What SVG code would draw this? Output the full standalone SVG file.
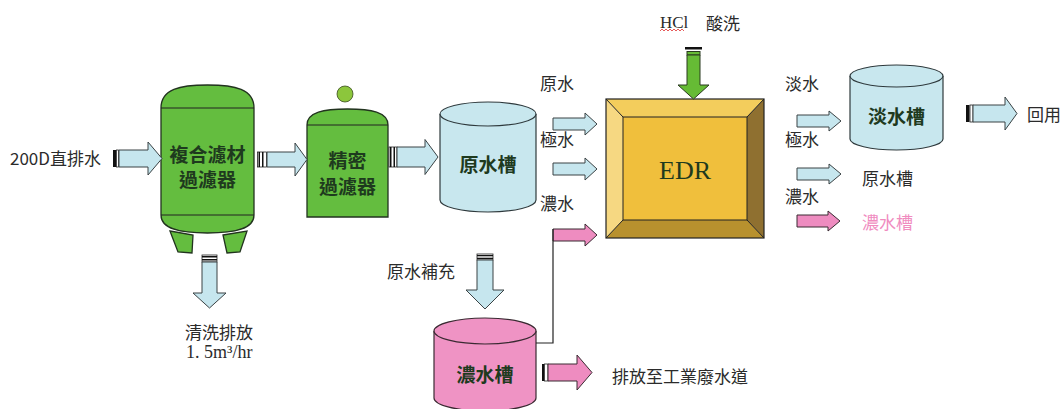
<svg xmlns="http://www.w3.org/2000/svg" width="1064" height="409" viewBox="0 0 1064 409">
  <style>
    .lbl { font-family: "Noto Sans CJK TC", "Noto Sans", sans-serif; font-size: 17px; fill: #2b2b2b; dominant-baseline: central; }
    .serif { font-family: "Liberation Serif", "Noto Sans CJK TC", serif; }
    .tank-lbl { font-family: "Noto Sans CJK TC", "Noto Sans", sans-serif; font-size: 19px; font-weight: bold; fill: #1e3a1e; text-anchor: middle; dominant-baseline: central; }
    .green { fill: #64bd3f; stroke: #22331f; stroke-width: 1.3; }
    .blue { fill: #c8e7ee; stroke: #2f3a3d; stroke-width: 1.2; }
    .pink { fill: #ef93c4; stroke: #3a2a32; stroke-width: 1.2; }
    .arr-blue { fill: #c6e6ee; stroke: #3a4244; stroke-width: 1; }
    .arr-pink { fill: #ee8cc0; stroke: #3a2a32; stroke-width: 1; }
    .arr-green { fill: #66bb35; stroke: #2a3a20; stroke-width: 1; }
    .stripe-dk { fill: #111; }
    .stripe-lt { fill: #fff; stroke: #222; stroke-width: 0.8; }
    .edge { stroke: #222; stroke-width: 1; }
    .pipe { fill: none; stroke: #222; stroke-width: 1.2; }
  </style>

  <rect width="1064" height="409" fill="#ffffff"/>

  <!-- composite media filter -->
  <g id="node-composite-filter">
    <polygon class="green" points="170,231 193,235 192,253 178,252"/>
    <polygon class="green" points="223,235 247,231 240,252 227,253"/>
    <path class="green" d="M161,108 C161,89 180,85 207.5,85 C235,85 254,89 254,108 L254,215 C254,229 235,233 207.5,233 C180,233 161,229 161,215 Z"/>
    <line class="edge" x1="161" y1="108" x2="254" y2="108"/>
    <line class="edge" x1="161" y1="215" x2="254" y2="215"/>
    <text class="tank-lbl" x="207.5" y="153">複合濾材</text>
    <text class="tank-lbl" x="207.5" y="178">過濾器</text>
  </g>

  <!-- precision filter -->
  <g id="node-precision-filter">
    <circle cx="345" cy="94" r="8" fill="#8cc63c" stroke="#3a4a20" stroke-width="0.8"/>
    <path class="green" d="M307,125 C307,112 324,109 347.5,109 C371,109 388,112 388,125 L388,217 L307,217 Z"/>
    <line class="edge" x1="307" y1="125" x2="388" y2="125"/>
    <text class="tank-lbl" x="347.5" y="159">精密</text>
    <text class="tank-lbl" x="347.5" y="185">過濾器</text>
  </g>

  <!-- raw water tank -->
  <g id="node-raw-tank">
    <path class="blue" d="M440,114 L440,200 A48,12 0 0 0 536,200 L536,114"/>
    <ellipse class="blue" cx="488" cy="114" rx="48" ry="12"/>
    <text class="tank-lbl" x="488" y="163">原水槽</text>
  </g>

  <!-- EDR unit -->
  <g id="node-edr">
    <rect x="623" y="117" width="124" height="103" fill="#f0bf3c"/>
    <polygon points="606,99 764,99 747,117 623,117" fill="#f3cd5c"/>
    <polygon points="606,99 623,117 623,220 606,238" fill="#f6d882"/>
    <polygon points="764,99 764,238 747,220 747,117" fill="#8f7030"/>
    <polygon points="606,238 764,238 747,220 623,220" fill="#b8912e"/>
    <rect x="606" y="99" width="158" height="139" fill="none" stroke="#222" stroke-width="1.2"/>
    <rect x="623" y="117" width="124" height="103" fill="none" stroke="#222" stroke-width="1"/>
    <line class="edge" x1="606" y1="99" x2="623" y2="117"/>
    <line class="edge" x1="764" y1="99" x2="747" y2="117"/>
    <line class="edge" x1="606" y1="238" x2="623" y2="220"/>
    <line class="edge" x1="764" y1="238" x2="747" y2="220"/>
    <text x="685" y="170" font-family="Liberation Serif, serif" font-size="26" fill="#1e3a1e" text-anchor="middle" dominant-baseline="central">EDR</text>
  </g>

  <!-- fresh water tank -->
  <g id="node-fresh-tank">
    <path class="blue" d="M850,76 L850,139 A46.5,11 0 0 0 943,139 L943,76"/>
    <ellipse class="blue" cx="896.5" cy="76" rx="46.5" ry="11"/>
    <text class="tank-lbl" x="896.5" y="115">淡水槽</text>
  </g>

  <!-- concentrate tank -->
  <g id="node-concentrate-tank">
    <path class="pink" d="M434,331 L434,398 A51,13 0 0 0 536,398 L536,331"/>
    <ellipse class="pink" cx="485" cy="331" rx="51" ry="13"/>
    <text class="tank-lbl" x="485" y="373">濃水槽</text>
  </g>

  <!-- labels -->
  <g id="labels">
    <text class="lbl" x="10" y="157">200D直排水</text>
    <text class="lbl" x="185" y="331">清洗排放</text>
    <text class="lbl serif" x="186" y="352" style="font-size:18px">1. 5m³/hr</text>
    <text class="lbl" x="387" y="270">原水補充</text>
    <text class="lbl" x="540" y="82">原水</text>
    <text class="lbl" x="540" y="138">極水</text>
    <text class="lbl" x="540" y="202">濃水</text>
    <text class="lbl serif" x="660" y="22">HCl</text>
    <path d="M660,31 l2,-2 l2,2 l2,-2 l2,2 l2,-2 l2,2 l2,-2 l2,2 l2,-2 l2,2 l2,-2 l2,2" fill="none" stroke="#e03030" stroke-width="0.8"/>
    <text class="lbl" x="706" y="22">酸洗</text>
    <text class="lbl" x="785" y="82">淡水</text>
    <text class="lbl" x="785" y="138">極水</text>
    <text class="lbl" x="785" y="195">濃水</text>
    <text class="lbl" x="862" y="177">原水槽</text>
    <text class="lbl" x="862" y="221" style="fill:#f08cbf">濃水槽</text>
    <text class="lbl" x="1027" y="113">回用</text>
    <text class="lbl" x="612" y="375">排放至工業廢水道</text>
  </g>

  <!-- connectors -->
  <g id="connectors">
    <!-- feed into composite filter -->
    <rect class="stripe-dk" x="113" y="150" width="3" height="17"/>
    <rect class="stripe-lt" x="116.5" y="150" width="2" height="17"/>
    <path class="arr-blue" d="M119,150 H148 V142 L162,158.5 L148,175 V167 H119 Z"/>

    <!-- composite filter to precision filter -->
    <rect class="stripe-lt" x="257.5" y="152" width="9" height="15"/>
    <rect class="stripe-dk" x="258.5" y="152" width="1.5" height="15"/>
    <rect class="stripe-dk" x="262" y="152" width="1.5" height="15"/>
    <path class="arr-blue" d="M267,152 H295 V143 L307,159.5 L295,176 V167 H267 Z"/>

    <!-- precision filter to raw tank -->
    <rect class="stripe-lt" x="389" y="147" width="8" height="20"/>
    <rect class="stripe-dk" x="390" y="147" width="1.5" height="20"/>
    <rect class="stripe-dk" x="393.5" y="147" width="1.5" height="20"/>
    <path class="arr-blue" d="M397,147 H425 V139.5 L438,157 L425,174.5 V167 H397 Z"/>

    <!-- backwash discharge -->
    <rect class="stripe-lt" x="202" y="255" width="15" height="7"/>
    <rect class="stripe-dk" x="202" y="256" width="15" height="1.5"/>
    <rect class="stripe-dk" x="202" y="259" width="15" height="1.5"/>
    <path class="arr-blue" d="M202,262 V293 H193 L209.5,308 L226,293 H217 V262 Z"/>

    <!-- raw water make-up -->
    <rect class="stripe-lt" x="477" y="254" width="16" height="6"/>
    <rect class="stripe-dk" x="477" y="255" width="16" height="1.3"/>
    <rect class="stripe-dk" x="477" y="257.7" width="16" height="1.3"/>
    <path class="arr-blue" d="M477,260 V290 H466 L485,309 L504,290 H493 V260 Z"/>

    <!-- HCl acid wash -->
    <rect class="stripe-dk" x="685" y="47" width="17" height="2.5"/>
    <rect class="arr-green" x="687" y="51.5" width="13" height="3.5"/>
    <path class="arr-green" d="M687,55 V85 H678 L693.5,99 L709,85 H700 V55 Z"/>

    <!-- streams into EDR -->
    <path class="arr-blue" d="M553,118 H585 V113 L597,124 L585,135 V130 H553 Z"/>
    <path class="arr-blue" d="M553,163 H585 V158 L597,169 L585,180 V175 H553 Z"/>
    <path class="arr-pink" d="M553,229 H585 V224 L597,235 L585,246 V241 H553 Z"/>
    <path class="pipe" d="M536,343 H553 V229"/>

    <!-- streams out of EDR -->
    <path class="arr-blue" d="M797,115 H829 V111 L841,121 L829,131 V127 H797 Z"/>
    <path class="arr-blue" d="M797,168 H829 V164 L841,174 L829,184 V180 H797 Z"/>
    <path class="arr-pink" d="M797,215 H828 V211 L840,221 L828,231 V227 H797 Z"/>

    <!-- reuse -->
    <rect class="stripe-dk" x="966" y="105" width="3.5" height="17"/>
    <rect class="stripe-lt" x="970" y="105" width="3" height="17"/>
    <path class="arr-blue" d="M973,105 H1005 V97 L1017,113.5 L1005,130 V122 H973 Z"/>

    <!-- concentrate to drain -->
    <rect class="stripe-dk" x="542" y="364" width="2" height="17"/>
    <rect class="stripe-lt" x="544.5" y="364" width="3.5" height="17"/>
    <path class="arr-pink" d="M548,364 H577 V355 L592,372.5 L577,390 V381 H548 Z"/>
  </g>
</svg>
